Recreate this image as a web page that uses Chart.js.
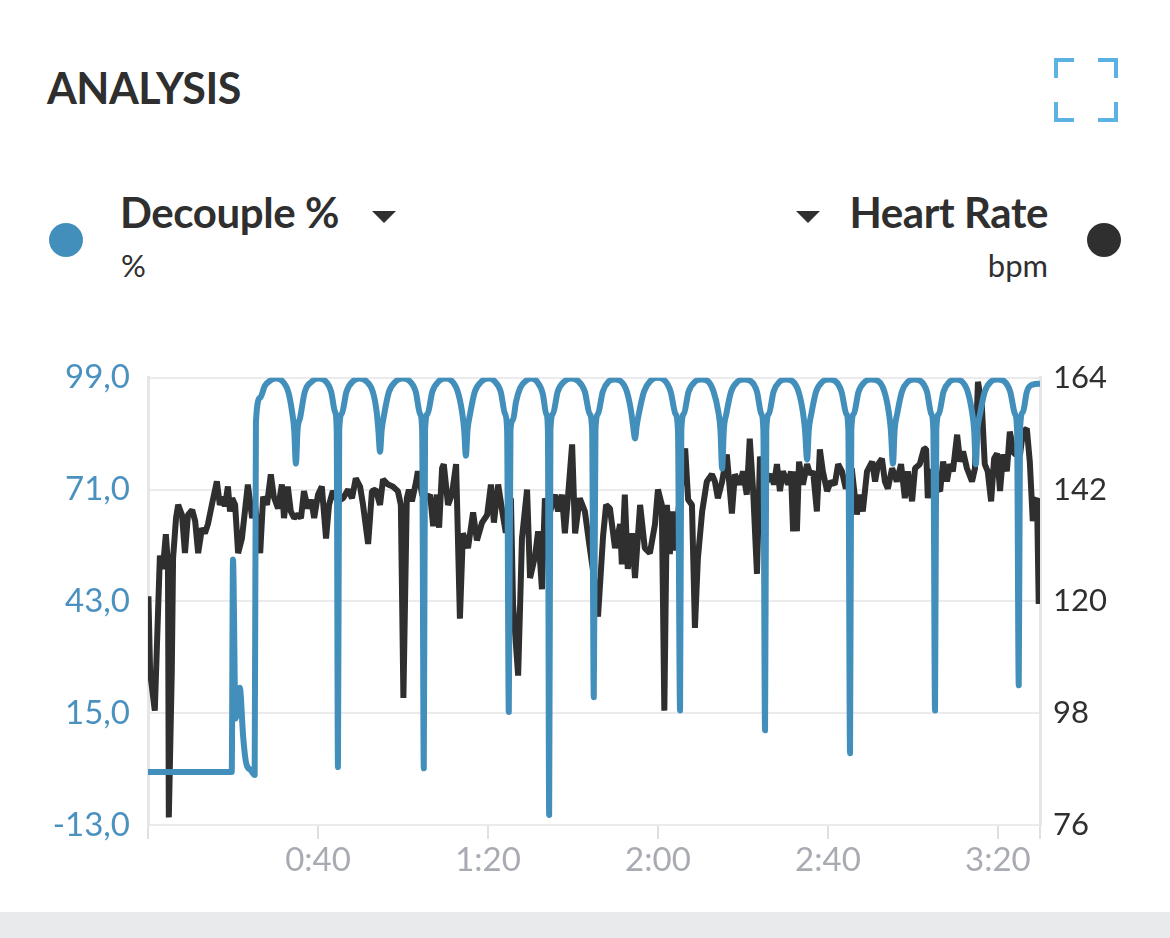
<!DOCTYPE html>
<html>
<head>
<meta charset="utf-8">
<title>Analysis</title>
<script src="https://cdn.jsdelivr.net/npm/chart.js@4.4.1/dist/chart.umd.min.js"></script>
<style>
  html, body { margin: 0; padding: 0; background: #fff; }
  body { width: 1170px; height: 938px; position: relative; overflow: hidden; font-family: "Lato", sans-serif; color: #2f2f2f; }
  .abs { position: absolute; white-space: nowrap; line-height: 1; }
  #title { left: 47px; top: 66px; font-size: 43px; font-weight: 700; letter-spacing: -0.5px; }
  .name { top: 191px; font-size: 42px; font-weight: 700; letter-spacing: -0.4px; }
  .unit { top: 250px; font-size: 31px; font-weight: 400; }
  .dot { position: absolute; width: 34px; height: 34px; border-radius: 50%; top: 223px; }
  .caret { position: absolute; top: 211px; width: 0; height: 0; border-left: 12px solid transparent; border-right: 12px solid transparent; border-top: 12px solid #2f2f2f; }
  #chartBox { position: absolute; left: 0; top: 340px; width: 1170px; height: 550px; }
  #footer { position: absolute; left: 0; top: 912px; width: 1170px; height: 26px; background: #e9eaec; }
</style>
</head>
<body>
<div id="title" class="abs">ANALYSIS</div>
<svg class="abs" style="left:1054px;top:58px" width="64" height="64" viewBox="0 0 64 64">
  <g fill="none" stroke="#5ab1e2" stroke-width="4">
    <path d="M2 20 V2 H20"/>
    <path d="M44 2 H62 V20"/>
    <path d="M2 44 V62 H20"/>
    <path d="M44 62 H62 V44"/>
  </g>
</svg>

<div class="dot" style="left:49px;background:#438fbb"></div>
<div class="abs name" style="left:120px">Decouple %</div>
<div class="caret" style="left:372px"></div>
<div class="abs unit" style="left:121px">%</div>

<div class="caret" style="left:796px"></div>
<div class="abs name" style="right:122px">Heart Rate</div>
<div class="abs unit" style="right:122px">bpm</div>
<div class="dot" style="left:1087px;background:#2f2f2f"></div>

<div id="chartBox"><canvas id="analysisChart"></canvas></div>
<div id="footer"></div>

<script>
// elapsed time in minutes, decouple in %
const decouple = [
  [0, 0.3], [19.7, 0.3], [20.0, 53.5], [20.6, 13.7], [21.6, 21.4], [22.4, 9], [23.1, 2.5], [24.2, 0.7], [25.1, -0.5],
  [25.4, 88], [26.4, 94], [27.5, 97], [28.8, 98.3], [30.0, 98.8], [31.5, 98.3], [33.0, 95.5], [33.9, 90.5], [34.4, 86], [34.8, 77.5],
  [35.2, 86], [35.8, 89], [36.9, 95.5], [38.6, 98.1], [40.0, 98.8], [41.6, 98.3], [43.1, 95.5], [44.0, 90.5], [44.4, 86], [44.7, 1.5],
  [45.0, 86], [45.6, 90], [46.7, 95.5], [48.3, 98.2], [49.8, 98.8], [51.3, 98.2], [52.9, 95.5], [53.8, 90.5], [54.2, 86], [54.6, 80.5],
  [55.0, 86], [55.6, 90], [56.7, 95.5], [58.3, 98.1], [59.8, 98.8], [61.4, 98.3], [63.0, 95.5], [64.0, 90], [64.5, 86], [64.9, 1.2],
  [65.2, 86], [65.8, 90], [66.9, 95.5], [68.5, 98.2], [69.9, 98.8], [71.4, 98.3], [72.9, 95.5], [73.9, 90.5], [74.4, 86], [74.8, 79.5],
  [75.2, 86], [75.8, 90], [76.9, 95.5], [78.5, 98.1], [80.0, 98.8], [81.5, 98.2], [83.0, 95.5], [84.0, 90], [84.5, 86], [84.9, 15.3],
  [85.3, 86], [85.9, 88.5], [86.6, 93], [87.6, 96.5], [89.0, 98.3], [90.2, 98.8], [91.5, 98.1], [92.9, 95], [93.7, 90], [94.1, 86], [94.4, -10.5],
  [94.7, 86], [95.3, 90], [96.4, 95.5], [98.0, 98.1], [99.6, 98.8], [101.2, 98.2], [102.8, 95.5], [103.9, 90], [104.5, 86], [104.9, 19],
  [105.3, 86], [105.9, 90], [107.0, 95.5], [108.4, 98.1], [109.8, 98.6], [111.2, 98.2], [112.7, 95.5], [113.7, 90.5], [114.2, 86.5], [114.6, 83.8],
  [115.0, 87], [115.6, 90.5], [116.7, 95.5], [118.3, 98.3], [119.8, 99], [121.4, 98.5], [123.0, 95.5], [124.1, 90], [124.7, 86], [125.2, 15.7],
  [125.5, 86], [126.1, 90], [127.2, 95.5], [128.8, 98.1], [130.2, 98.6], [131.7, 98.2], [133.1, 95.5], [134.2, 90.5], [134.7, 86], [135.1, 76.3],
  [135.5, 86], [136.1, 90], [137.2, 95.5], [138.8, 98.1], [140.2, 98.6], [141.8, 98.2], [143.3, 95.5], [144.3, 90], [144.8, 86], [145.2, 10.7],
  [145.5, 86], [146.1, 90], [147.2, 95.5], [148.7, 98.1], [150.1, 98.6], [151.6, 98.2], [153.1, 95.5], [154.1, 90.5], [154.6, 86], [155.1, 78.5],
  [155.5, 86], [156.1, 90], [157.2, 95.5], [158.8, 98.1], [160.2, 98.6], [161.7, 98.2], [163.2, 95.5], [164.3, 90], [164.8, 86], [165.2, 5],
  [165.5, 86], [166.1, 90], [167.2, 95.5], [168.8, 98.1], [170.2, 98.6], [171.8, 98.2], [173.3, 95.5], [174.3, 90.5], [174.8, 86], [175.3, 77.5],
  [175.7, 86], [176.3, 90], [177.4, 95.5], [178.9, 98.1], [180.3, 98.6], [181.8, 98.2], [183.3, 95.5], [184.3, 90], [184.8, 86], [185.2, 15.7],
  [185.5, 86], [186.1, 90], [187.2, 95.5], [188.7, 98.1], [190.0, 98.6], [191.4, 98.2], [192.9, 95.5], [193.9, 90.5], [194.4, 86], [194.8, 77.3],
  [195.2, 86], [195.8, 90], [196.9, 95.5], [198.4, 98.1], [199.9, 98.6], [201.4, 98.2], [202.9, 95.5], [204.0, 90], [204.5, 86], [204.9, 22],
  [205.2, 86], [205.9, 90.5], [206.8, 95.5], [208.2, 97.3], [209.9, 97.5]
];

// elapsed time in minutes, heart rate in bpm
const heartRate = [
  [0.1, 121], [0.5, 106], [1.6, 98.5], [2.8, 129], [3.5, 126.4], [4.2, 133.2], [4.7, 127.3], [4.9, 77.5], [5.6, 106.4], [5.9, 128.5],
  [6.6, 136.4], [7.1, 139], [8.0, 137], [8.7, 129.5], [9.4, 137], [10.4, 138], [11.1, 135.8], [11.8, 129.5], [12.7, 134.4], [13.4, 133.4],
  [14.1, 135.2], [15.1, 139.3], [16.2, 143.6], [16.9, 139], [17.6, 140.6], [18.1, 138.7], [18.8, 142.6], [19.3, 137.7], [19.8, 140.3], [20.5, 139],
  [21.2, 129.5], [22.1, 132.4], [22.8, 137.7], [23.5, 143], [24.5, 136.4], [25.2, 139], [26.4, 129.5], [27.1, 140.6], [28.0, 139], [28.9, 145],
  [29.6, 140.6], [30.6, 138.3], [31.5, 143], [32.0, 136.4], [32.9, 142.6], [33.6, 137.7], [34.4, 136.4], [35.3, 137.1], [36.0, 136.4], [36.7, 141.7],
  [37.6, 138.3], [38.4, 140], [39.1, 136.4], [40.0, 141], [40.9, 142.6], [41.9, 132.4], [42.6, 139], [43.5, 141.7], [44.7, 139.7], [45.9, 140.3],
  [47.1, 142], [48.0, 140.3], [48.9, 144.2], [49.9, 142.6], [50.6, 139], [51.8, 131.3], [52.7, 141.7], [53.6, 142], [54.6, 139], [55.3, 144],
  [56.5, 143], [57.6, 142.6], [58.8, 141.7], [59.5, 139], [60.1, 101], [60.9, 140.3], [61.4, 142], [62.1, 139.7], [63.1, 143.6], [63.5, 145.6],
  [64.5, 141], [65.4, 140], [66.4, 141], [67.1, 134.8], [68.0, 141], [68.5, 134.5], [69.2, 146.2], [69.6, 147], [70.6, 139], [71.5, 141],
  [72.5, 147], [73.4, 116.6], [74.1, 133.4], [75.3, 130.5], [76.5, 137.5], [77.4, 132], [78.6, 135.5], [79.8, 137], [80.7, 143], [81.4, 135.5],
  [82.4, 143], [83.5, 137], [84.2, 133.5], [85.4, 140.3], [85.9, 119.5], [87.1, 105.4], [88.0, 132.4], [89.2, 142], [89.9, 124.6], [91.1, 129],
  [91.8, 133.8], [92.7, 122.4], [93.4, 140.3], [94.4, 137], [95.8, 141], [96.5, 137.7], [97.4, 141], [98.1, 133.4], [98.8, 140.3], [99.8, 150.9],
  [100.5, 133.4], [101.6, 140.3], [102.8, 137.7], [103.8, 131.5], [104.9, 125], [105.9, 117], [107.1, 133], [107.8, 139], [108.7, 138.3], [109.9, 130.5],
  [111.1, 135.2], [111.5, 127.3], [112.2, 141], [112.9, 126.4], [113.9, 133.4], [114.6, 124.6], [115.8, 139], [116.9, 130.5], [118.1, 129.5], [119.3, 135.2],
  [120.0, 142], [120.9, 139], [121.5, 98.5], [122.1, 139], [122.8, 129.3], [123.3, 137.7], [124.0, 130], [124.7, 137], [126.4, 150.1], [127.1, 140],
  [128.0, 139], [128.7, 114.8], [129.4, 128.5], [130.4, 137.7], [131.5, 143.6], [132.7, 145], [133.4, 143.6], [134.1, 140.3], [135.1, 143.6], [136.2, 148.9],
  [137.4, 137.3], [138.1, 145], [139.3, 143], [140.0, 145.6], [140.9, 141], [141.6, 152], [142.4, 141.7], [143.3, 125.4], [144.0, 148.5], [145.2, 143],
  [146.6, 145], [147.3, 143], [148.0, 147], [148.7, 141.7], [149.4, 145.6], [150.6, 143], [151.3, 145.6], [151.8, 133.8], [152.2, 145.6], [152.7, 133.8],
  [153.2, 147.5], [154.1, 143], [155.1, 147], [155.8, 145], [156.5, 145.6], [157.4, 137.7], [158.1, 149.9], [158.8, 145.6], [159.8, 141.7], [160.7, 143.6],
  [161.6, 143], [162.4, 147], [163.3, 145.6], [164.2, 142.2], [165.2, 144], [165.6, 146.2], [166.8, 137.1], [167.5, 141], [168.2, 137.7], [169.2, 145.6],
  [170.4, 147.5], [171.1, 143.6], [171.8, 147], [172.7, 148.1], [173.4, 143.6], [174.1, 142.2], [175.1, 146.2], [176.2, 143.6], [177.2, 147], [178.1, 140.3],
  [178.8, 145.6], [179.8, 139.7], [180.5, 146.2], [181.6, 147], [182.6, 150.1], [183.1, 150], [183.5, 140.3], [184.2, 146], [185.2, 143], [186.4, 141.7],
  [187.1, 147.5], [188.0, 143.6], [188.7, 147], [189.4, 145.6], [190.4, 152.8], [191.1, 147.5], [191.8, 149.5], [192.7, 146.2], [193.9, 143.6], [194.6, 146.2],
  [195.3, 163.2], [196.2, 158.7], [196.9, 147], [197.6, 145.6], [198.4, 139.7], [199.1, 148.1], [199.8, 149.1], [200.5, 141.7], [201.2, 148.9], [202.1, 145.6],
  [202.8, 153.4], [203.8, 149], [205.2, 148.9], [205.9, 153.4], [206.8, 154], [207.5, 147.5], [208.2, 135.8], [208.7, 139.7], [209.2, 140.3], [209.6, 119.5]
];

const timeTicks = [0, 40, 80, 120, 160, 200, 209.9];
const decoupleTicks = [-13, 15, 43, 71, 99];
const heartRateTicks = [76, 98, 120, 142, 164];

const blue = "#438fbb";
const dark = "#2f2f2f";
const gridColor = "#ebebee";

function formatTime(min) {
  if (min === 0 || min === timeTicks[timeTicks.length - 1]) return "";
  const h = Math.floor(min / 60);
  const m = Math.round(min % 60);
  return h + ":" + String(m).padStart(2, "0");
}

const ctx = document.getElementById("analysisChart").getContext("2d");
new Chart(ctx, {
  type: "line",
  data: {
    datasets: [
      {
        label: "Decouple %",
        data: decouple.map(([t, v]) => ({ x: t, y: v })),
        yAxisID: "yDec",
        borderColor: blue,
        borderWidth: 6,
        pointRadius: 0,
        cubicInterpolationMode: "monotone",
        borderJoinStyle: "round",
        fill: false,
      },
      {
        label: "Heart Rate",
        data: heartRate.map(([t, v]) => ({ x: t, y: v })),
        yAxisID: "yHr",
        borderColor: dark,
        borderWidth: 6,
        pointRadius: 0,
        tension: 0,
        borderJoinStyle: "bevel",
        fill: false,
      },
    ],
  },
  options: {
    responsive: true,
    maintainAspectRatio: false,
    animation: false,
    layout: { padding: { top: 36, left: 0, right: 0, bottom: 0 } },
    plugins: { legend: { display: false }, tooltip: { enabled: false } },
    scales: {
      x: {
        type: "linear",
        min: 0,
        max: 209.9,
        afterBuildTicks: (scale) => {
          scale.ticks = timeTicks.map((v) => ({ value: v }));
        },
        afterFit: (scale) => {
          scale.height = 65;
        },
        grid: {
          drawOnChartArea: false,
          drawTicks: true,
          tickLength: 14,
          color: "#dfe0e5",
          lineWidth: 2,
        },
        border: { display: true, color: gridColor, width: 2 },
        ticks: {
          autoSkip: false,
          maxRotation: 0,
          padding: 2,
          color: "#a9abb3",
          font: { family: "Lato", size: 33 },
          callback: (v) => formatTime(v),
        },
      },
      yDec: {
        type: "linear",
        position: "left",
        min: -13,
        max: 99,
        afterBuildTicks: (scale) => {
          scale.ticks = decoupleTicks.map((v) => ({ value: v }));
        },
        afterFit: (scale) => {
          scale.width = 148;
        },
        grid: { color: gridColor, lineWidth: 2, drawTicks: false },
        border: { display: true, color: "#e6e6e9", width: 3 },
        ticks: {
          padding: 18,
          color: "#4a91c0",
          font: { family: "Lato", size: 33 },
          callback: (v) => v.toFixed(1).replace(".", ","),
        },
      },
      yHr: {
        type: "linear",
        position: "right",
        min: 76,
        max: 164,
        afterBuildTicks: (scale) => {
          scale.ticks = heartRateTicks.map((v) => ({ value: v }));
        },
        afterFit: (scale) => {
          scale.width = 130;
        },
        grid: { drawOnChartArea: false, drawTicks: false },
        border: { display: true, color: "#e6e6e9", width: 3 },
        ticks: {
          padding: 13,
          color: dark,
          font: { family: "Lato", size: 31 },
          callback: (v) => String(v),
        },
      },
    },
  },
});
</script>
</body>
</html>
